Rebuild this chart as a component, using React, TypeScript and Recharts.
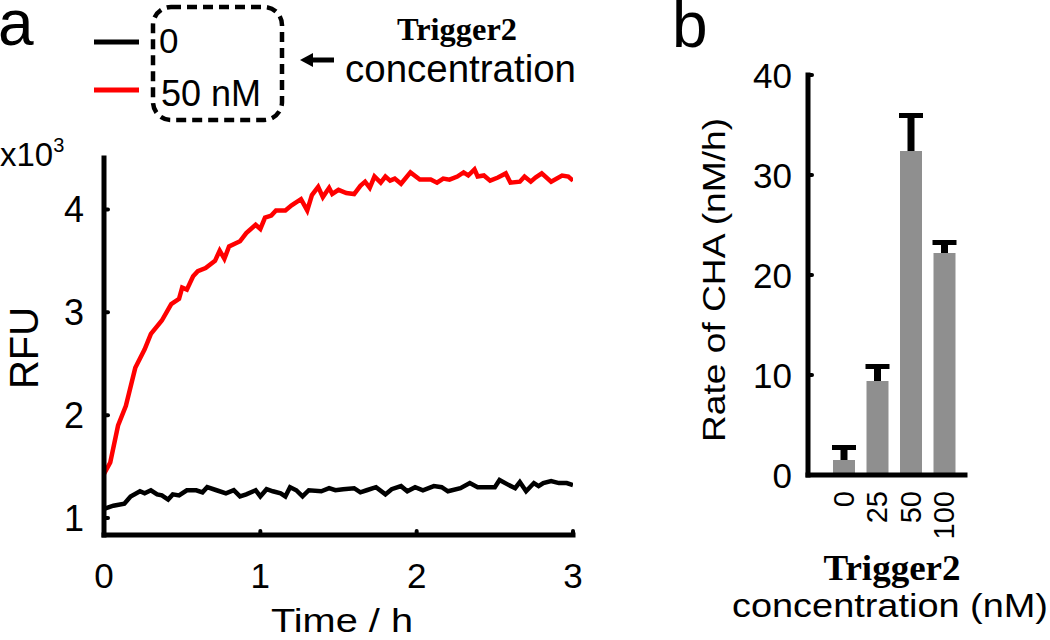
import { LineChart, Line, BarChart, Bar, XAxis, YAxis } from 'recharts'

// panel a: RFU (x10^3) vs time (h)
const RED_T = [
  0, 0.04, 0.09, 0.14, 0.2, 0.26, 0.3, 0.37, 0.43, 0.48, 0.5, 0.53, 0.57, 0.6, 0.65, 0.71, 0.74, 0.77,
  0.8, 0.87, 0.91, 0.97, 1.0, 1.03, 1.07, 1.1, 1.16, 1.2, 1.26, 1.3, 1.33, 1.37, 1.4, 1.44, 1.46, 1.5,
  1.55, 1.6, 1.64, 1.67, 1.7, 1.73, 1.77, 1.8, 1.83, 1.86, 1.9, 1.96, 2.02, 2.09, 2.13, 2.17, 2.21, 2.26,
  2.3, 2.33, 2.37, 2.39, 2.43, 2.47, 2.52, 2.57, 2.6, 2.66, 2.69, 2.73, 2.76, 2.8, 2.86, 2.93, 2.97, 3.0,
]
const RED_RFU = [
  1.43, 1.54, 1.9, 2.09, 2.46, 2.64, 2.79, 2.92, 3.08, 3.13, 3.24, 3.22, 3.35, 3.4, 3.43, 3.5, 3.6, 3.52,
  3.64, 3.69, 3.77, 3.85, 3.81, 3.92, 3.94, 3.99, 3.99, 4.04, 4.1, 3.99, 4.14, 4.22, 4.12, 4.21, 4.15, 4.19,
  4.16, 4.15, 4.23, 4.27, 4.21, 4.32, 4.26, 4.32, 4.28, 4.3, 4.25, 4.36, 4.29, 4.29, 4.26, 4.3, 4.29, 4.32,
  4.36, 4.33, 4.39, 4.32, 4.33, 4.28, 4.31, 4.35, 4.26, 4.27, 4.32, 4.27, 4.31, 4.35, 4.27, 4.33, 4.32, 4.28,
]
const BLACK_T = [
  0, 0.06, 0.13, 0.17, 0.23, 0.26, 0.3, 0.34, 0.37, 0.41, 0.44, 0.48, 0.53, 0.59, 0.63, 0.66, 0.72, 0.78,
  0.83, 0.87, 0.91, 0.97, 1.0, 1.04, 1.08, 1.13, 1.16, 1.19, 1.23, 1.27, 1.31, 1.39, 1.44, 1.48, 1.53, 1.6,
  1.64, 1.68, 1.74, 1.8, 1.84, 1.9, 1.94, 1.99, 2.04, 2.11, 2.16, 2.2, 2.28, 2.34, 2.39, 2.5, 2.53, 2.59,
  2.63, 2.66, 2.7, 2.75, 2.78, 2.81, 2.86, 2.91, 2.96, 3.0,
]
const BLACK_RFU = [
  1.09, 1.12, 1.14, 1.21, 1.26, 1.24, 1.27, 1.23, 1.22, 1.18, 1.23, 1.22, 1.27, 1.27, 1.25, 1.3, 1.27, 1.24,
  1.27, 1.21, 1.23, 1.27, 1.21, 1.28, 1.26, 1.24, 1.21, 1.3, 1.27, 1.21, 1.27, 1.26, 1.29, 1.27, 1.28, 1.29,
  1.25, 1.27, 1.3, 1.23, 1.28, 1.31, 1.26, 1.3, 1.27, 1.31, 1.3, 1.26, 1.29, 1.34, 1.3, 1.3, 1.37, 1.32,
  1.29, 1.35, 1.26, 1.34, 1.31, 1.34, 1.36, 1.34, 1.34, 1.32,
]
const TIME_TICKS = [0, 1, 2, 3]
const RFU_TICKS = [1, 2, 3, 4]

// panel b: CHA rate per trigger concentration
const CONCENTRATIONS = ['0', '25', '50', '100']
const RATES = [1.5, 9.4, 32.4, 22.2]
const RATE_ERRORS = [1.5, 1.7, 3.8, 1.3]
const RATE_TICKS = [0, 10, 20, 30, 40]

const SANS = '"Liberation Sans", Arial, sans-serif'
const SERIF = '"Liberation Serif", "Times New Roman", serif'
const BAR_FILL = '#8f8f8f'
const TICK_MARGIN = 10

const redData = RED_T.map((t, i) => ({ t, rfu: RED_RFU[i] }))
const blackData = BLACK_T.map((t, i) => ({ t, rfu: BLACK_RFU[i] }))
const rateData = CONCENTRATIONS.map((c, i) => ({ conc: c, rate: RATES[i], err: RATE_ERRORS[i] }))

function LeftTick(props: any) {
  const { x, y, payload, fontSize, gap } = props
  const axisX = x + TICK_MARGIN
  return (
    <g>
      {payload.value !== 0 && (
        <line x1={axisX} x2={axisX + 4} y1={y} y2={y} stroke="#000" strokeWidth={4} strokeLinecap="round" />
      )}
      <text
        x={axisX - gap}
        y={y}
        textAnchor="end"
        dominantBaseline="central"
        fontSize={fontSize}
        fontFamily={SANS}
        fill="#000"
      >
        {payload.value}
      </text>
    </g>
  )
}

function TimeTick(props: any) {
  const { x, y, payload } = props
  const axisY = y - TICK_MARGIN
  return (
    <g>
      <line x1={x} x2={x} y1={axisY} y2={axisY - 4} stroke="#000" strokeWidth={4} strokeLinecap="round" />
      <text x={x} y={axisY + 40} textAnchor="middle" dominantBaseline="central" fontSize={35} fontFamily={SANS} fill="#000">
        {payload.value}
      </text>
    </g>
  )
}

function ConcTick(props: any) {
  const { x, y, payload } = props
  const top = y - TICK_MARGIN + 16
  return (
    <text
      x={x}
      y={top}
      transform={`rotate(-90, ${x}, ${top})`}
      textAnchor="end"
      dominantBaseline="central"
      fontSize={29}
      fontFamily={SANS}
      fill="#000"
    >
      {payload.value}
    </text>
  )
}

function RateBar(props: any) {
  const { x, y, width, height, payload } = props
  // error length converted with the same pixels-per-unit as the bar itself
  const errPx = payload.rate > 0 ? (payload.err / payload.rate) * height : 0
  const cx = x + width / 2
  const top = y - errPx
  return (
    <g>
      <rect x={x} y={y} width={width} height={height} fill={BAR_FILL} />
      <line x1={cx} x2={cx} y1={y} y2={top} stroke="#000" strokeWidth={7} />
      <line x1={x - 1} x2={x + width + 1} y1={top + 2.5} y2={top + 2.5} stroke="#000" strokeWidth={5} />
    </g>
  )
}

function Annotations() {
  return (
    <svg
      width={1050}
      height={640}
      style={{ position: 'absolute', left: 0, top: 0, pointerEvents: 'none' }}
    >
      <text x={-2} y={45} fontSize={64} fontFamily={SANS} fill="#000">a</text>
      <text x={672} y={47} fontSize={64} fontFamily={SANS} fill="#000">b</text>

      {/* legend of panel a */}
      <line x1={94} x2={139} y1={42} y2={42} stroke="#000" strokeWidth={5} />
      <line x1={94} x2={139} y1={90} y2={90} stroke="#ff0000" strokeWidth={5} />
      <text x={159} y={53} fontSize={35} fontFamily={SANS} fill="#000">0</text>
      <text x={161} y={106} fontSize={36} fontFamily={SANS} fill="#000">50 nM</text>
      <rect x={153} y={7} width={129} height={113} rx={18} fill="none" stroke="#000" strokeWidth={4.5} strokeDasharray="10 6" />
      <line x1={334} x2={309} y1={60} y2={60} stroke="#000" strokeWidth={5} />
      <polygon points="300,60 313,53 313,67" fill="#000" />
      <text x={457} y={40} textAnchor="middle" fontSize={32} fontWeight="bold" fontFamily={SERIF} fill="#000" textLength={120} lengthAdjust="spacingAndGlyphs">
        Trigger2
      </text>
      <text x={345} y={82} fontSize={38} fontFamily={SANS} fill="#000" textLength={231} lengthAdjust="spacingAndGlyphs">
        concentration
      </text>

      {/* panel a axis titles */}
      <text x={0} y={166} fontSize={33} fontFamily={SANS} fill="#000">
        x10<tspan fontSize={20} dy={-14}>3</tspan>
      </text>
      <text x={38} y={348} transform="rotate(-90, 38, 348)" textAnchor="middle" fontSize={40} fontFamily={SANS} fill="#000">
        RFU
      </text>
      <text x={342} y={632} textAnchor="middle" fontSize={33} fontFamily={SANS} fill="#000" textLength={142} lengthAdjust="spacingAndGlyphs">
        Time / h
      </text>

      {/* panel b axis titles */}
      <text x={725} y={280} transform="rotate(-90, 725, 280)" textAnchor="middle" fontSize={32} fontFamily={SANS} fill="#000" textLength={324} lengthAdjust="spacingAndGlyphs">
        Rate of CHA (nM/h)
      </text>
      <text x={892} y={580} textAnchor="middle" fontSize={35} fontWeight="bold" fontFamily={SERIF} fill="#000" textLength={137} lengthAdjust="spacingAndGlyphs">
        Trigger2
      </text>
      <text x={732} y={617} fontSize={34} fontFamily={SANS} fill="#000" textLength={316} lengthAdjust="spacingAndGlyphs">
        concentration (nM)
      </text>
    </svg>
  )
}

export default function App() {
  const axisStyle = { stroke: '#000', strokeWidth: 5, strokeLinecap: 'square' as const }
  return (
    <div style={{ position: 'absolute', left: 0, top: 0, width: 1050, height: 640, background: '#fff', fontFamily: SANS }}>
      <div style={{ position: 'absolute', left: 0, top: 0 }}>
        <LineChart width={620} height={640} margin={{ top: 158, right: 47, bottom: 0, left: 0 }}>
          <XAxis
            type="number"
            dataKey="t"
            domain={[0, 3]}
            ticks={TIME_TICKS}
            allowDataOverflow
            height={105}
            axisLine={axisStyle}
            tickLine={false}
            tickSize={0}
            tickMargin={TICK_MARGIN}
            tick={<TimeTick />}
          />
          <YAxis
            type="number"
            domain={[0.835, 4.5]}
            ticks={RFU_TICKS}
            allowDataOverflow
            width={104}
            axisLine={axisStyle}
            tickLine={false}
            tickSize={0}
            tickMargin={TICK_MARGIN}
            tick={<LeftTick fontSize={36} gap={20} />}
          />
          <Line
            data={blackData}
            dataKey="rfu"
            type="linear"
            stroke="#000"
            strokeWidth={4.5}
            dot={false}
            isAnimationActive={false}
          />
          <Line
            data={redData}
            dataKey="rfu"
            type="linear"
            stroke="#ff0000"
            strokeWidth={4.5}
            dot={false}
            isAnimationActive={false}
          />
        </LineChart>
      </div>

      <div style={{ position: 'absolute', left: 650, top: 0 }}>
        <BarChart width={400} height={640} data={rateData} margin={{ top: 75, right: 85, bottom: 0, left: 0 }}>
          <XAxis
            dataKey="conc"
            height={165}
            padding={{ left: 19, right: 4 }}
            axisLine={axisStyle}
            tickLine={false}
            tickSize={0}
            tickMargin={TICK_MARGIN}
            interval={0}
            tick={<ConcTick />}
          />
          <YAxis
            type="number"
            domain={[0, 40]}
            ticks={RATE_TICKS}
            width={158}
            axisLine={axisStyle}
            tickLine={false}
            tickSize={0}
            tickMargin={TICK_MARGIN}
            tick={<LeftTick fontSize={35} gap={16} />}
          />
          <Bar dataKey="rate" barSize={22} fill={BAR_FILL} shape={<RateBar />} isAnimationActive={false} />
        </BarChart>
      </div>

      <Annotations />
    </div>
  )
}
